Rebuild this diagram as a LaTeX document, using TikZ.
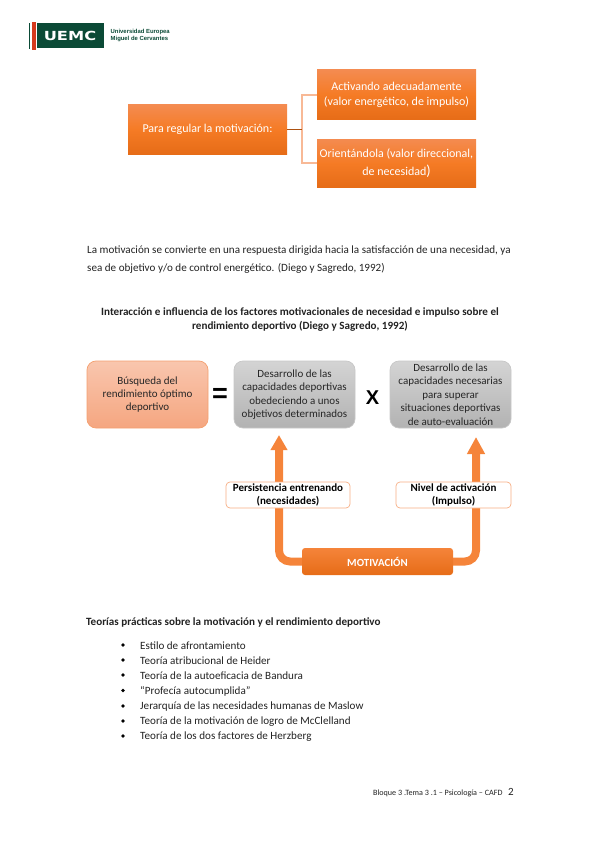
\documentclass[tikz,border=0pt]{standalone}
\usepackage{fontspec}
\setmainfont{Carlito}
\newfontfamily\logofont[FakeStretch=1.3]{DejaVu Sans}
\newfontfamily\logosmall{Liberation Sans}
\newfontfamily\symfont{Liberation Sans}
\usetikzlibrary{arrows.meta,backgrounds}
\definecolor{orangeT}{HTML}{F48B50}
\definecolor{orangeM}{HTML}{F57B25}
\definecolor{orangeB}{HTML}{E66C17}
\definecolor{uemcgreen}{HTML}{0B4A36}
\definecolor{uemcred}{HTML}{D63A1E}
\definecolor{bodytxt}{HTML}{222222}
\definecolor{F8Cin}{HTML}{F9C6AE}
\definecolor{F8Cout}{HTML}{F5A680}
\definecolor{F8Cdraw}{HTML}{F4A070}
\definecolor{F8arrow}{HTML}{F5843A}
\tikzset{
  x=1pt,y=-1pt,
  obox/.style={rectangle,inner sep=0pt,minimum width=159pt,minimum height=49pt,
    top color=orangeT,bottom color=orangeB,middle color=orangeM,
    text=white,align=center,font=\fontsize{12}{18}\selectfont},
  link/.style={draw=#1,line width=1.1pt},
  rbox/.style={rectangle,rounded corners=9pt,inner sep=0pt,minimum width=121pt,minimum height=67pt,
    align=center,text=black!85,font=\fontsize{11}{13.4}\selectfont},
  peach/.style={rbox,top color=F8Cin,bottom color=F8Cout,draw=F8Cdraw,line width=.7pt},
  greybox/.style={rbox,top color=black!17,bottom color=black!30,draw=black!22,line width=.7pt},
  lab/.style={rectangle,rounded corners=4pt,inner sep=0pt,fill=white,draw=orangeT!70,line width=.7pt,
    minimum height=26pt,align=center,text=black,font=\fontsize{11}{13.4}\selectfont\bfseries},
  fat/.style={draw=F8arrow,line width=8pt,rounded corners=11pt},
  para/.style={anchor=west,inner sep=0pt,text=bodytxt,font=\fontsize{11.1}{12}\selectfont},
  item/.style={para},
  dot/.style={circle,fill=black,inner sep=0pt,minimum size=3.8pt},
}
\begin{document}
\begin{tikzpicture}
\useasboundingbox (0,0) rectangle (599,848);
% logo
\node[rectangle,fill=uemcgreen,minimum width=67pt,minimum height=25pt,inner sep=0pt,text=white,font=\logofont\fontsize{12.5}{13}\selectfont\bfseries] (logo) at (70,35.5) {UEMC};
\node[rectangle,fill=uemcred,minimum width=4pt,minimum height=28pt,inner sep=0pt] (stripe) at (34,36) {};
\node[rectangle,fill=uemcgreen,minimum width=1.6pt,minimum height=26pt,inner sep=0pt] (stripe2) at (29.6,36) {};
\node[anchor=west,inner sep=0pt,align=left,text=uemcgreen,font=\logosmall\fontsize{5.9}{6.7}\selectfont\bfseries] (logotxt) at (110.5,35.3) {Universidad Europea\\Miguel de Cervantes};
% top diagram
\node[obox] (reg) at (207.5,129.5) {Para regular la motivación:};
\node[obox,minimum height=50pt,font=\fontsize{12}{14.5}\selectfont] (act) at (396.5,95) {Activando adecuadamente\\(valor energético, de impulso)};
\node[obox,minimum height=48pt] (ori) at (396.5,163) {Orientándola (valor direccional,\\de necesidad{\Large)}};
\coordinate (tj) at (302,129.5);
\draw[link=orangeT!60] (tj) |- (act.west);
\draw[link=orangeT!60] (tj) |- (ori.west);
\draw[link=orangeB!75!black] (reg.east) -- (tj);
% paragraph
\node[para] (p1) at (87,251) {La motivación se convierte en una respuesta dirigida hacia la satisfacción de una necesidad, ya};
\node[para] (p2) at (87,268) {sea de objetivo y/o de control energético. (Diego y Sagredo, 1992)};
% title
\node[inner sep=0pt,text=bodytxt,font=\fontsize{11.1}{12}\selectfont\bfseries] (t1) at (300,312) {Interacción e influencia de los factores motivacionales de necesidad e impulso sobre el};
\node[inner sep=0pt,text=bodytxt,font=\fontsize{11.1}{12}\selectfont\bfseries] (t2) at (300,326) {rendimiento deportivo (Diego y Sagredo, 1992)};
% formula boxes
\node[peach] (busq) at (147.5,394.5) {Búsqueda del\\rendimiento óptimo\\deportivo};
\node[greybox] (des1) at (294.5,394.5) {Desarrollo de las\\capacidades deportivas\\obedeciendo a unos\\objetivos determinados};
\node[greybox] (des2) at (450.5,394.5) {Desarrollo de las\\capacidades necesarias\\para superar\\situaciones deportivas\\de auto-evaluación};
\node[inner sep=0pt,font=\symfont\fontsize{27}{27}\selectfont\bfseries,text=black] (eq) at (220,395.5) {=};
\node[inner sep=0pt,font=\symfont\fontsize{20}{20}\selectfont\bfseries,text=black] (xx) at (372.5,398) {X};
% motivation
\node[rectangle,rounded corners=3pt,inner sep=0pt,minimum width=151pt,minimum height=27pt,
  top color=F8arrow,bottom color=orangeB,text=white,font=\fontsize{10.9}{12}\selectfont\bfseries] (mot) at (377.5,561.5) {MOTIVACIÓN};
\coordinate (la) at (279,435);
\coordinate (ra) at (476,437);
\begin{pgfonlayer}{background}
\draw[fat,-{Triangle[length=15pt,width=16pt]}] (mot.west) -| (la);
\draw[fat,-{Triangle[length=17pt,width=17pt]}] (mot.east) -| (ra);
\end{pgfonlayer}
\node[lab,minimum width=124pt] (per) at (288,495) {Persistencia entrenando\\(necesidades)};
\node[lab,minimum width=115pt] (niv) at (453.5,495) {Nivel de activación\\(Impulso)};
% theories
\node[para,font=\fontsize{11.1}{12}\selectfont\bfseries] (th) at (86,622.5) {Teorías prácticas sobre la motivación y el rendimiento deportivo};
\node[dot] (d1) at (123,645) {}; \node[item] (i1) at (140,645.5) {Estilo de afrontamiento};
\node[dot] (d2) at (123,660) {}; \node[item] (i2) at (140,660.5) {Teoría atribucional de Heider};
\node[dot] (d3) at (123,675) {}; \node[item] (i3) at (140,675.5) {Teoría de la autoeficacia de Bandura};
\node[dot] (d4) at (123,690.5) {}; \node[item] (i4) at (140,691) {“Profecía autocumplida”};
\node[dot] (d5) at (123,706) {}; \node[item] (i5) at (140,706.5) {Jerarquía de las necesidades humanas de Maslow};
\node[dot] (d6) at (123,721) {}; \node[item] (i6) at (140,721.5) {Teoría de la motivación de logro de McClelland};
\node[dot] (d7) at (123,736) {}; \node[item] (i7) at (140,736.5) {Teoría de los dos factores de Herzberg};
% footer
\node[para,font=\fontsize{8.1}{9}\selectfont] (foot) at (373,793) {Bloque 3 .Tema 3 .1 – Psicología – CAFD};
\node[para,font=\fontsize{11}{12}\selectfont] (pg) at (508,792) {2};
\end{tikzpicture}
\end{document}
